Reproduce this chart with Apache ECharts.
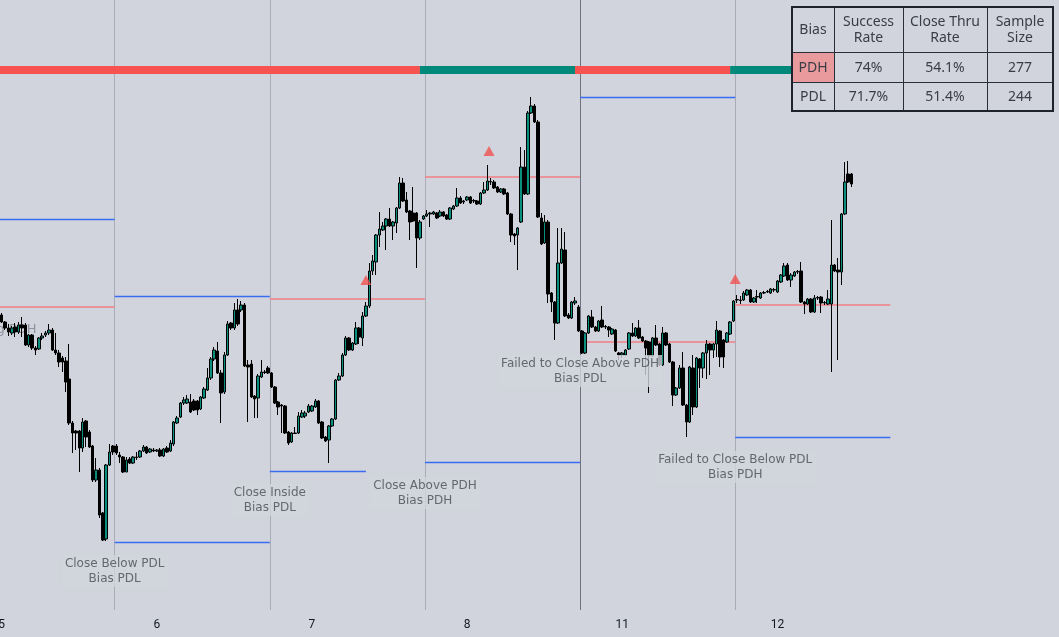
<!DOCTYPE html>
<html><head><meta charset="utf-8">
<script src="https://cdn.jsdelivr.net/npm/echarts/dist/echarts.min.js"></script>
<style>html,body{margin:0;padding:0;background:#d1d4dc}#c{width:1059px;height:637px}</style>
</head><body><div id="c"></div><script>
// ---- DATA ----
// day session labels on the time axis and the slot where each midnight falls
const dayLabels = ['5', '6', '7', '8', '11', '12'];
const labelBars = [0, 46, 92, 138, 184, 230];
const totalSlots = 314;
// 30-min candles [open, close, low, high]
const day5 = [
[4185,4178,4177,4187],[4178,4172,4170,4179],[4172,4168,4164,4176],[4167,4172,4165,4174],[4173,4168,4163,4177],
[4168,4175,4166,4178],[4175,4172,4163,4183],[4175,4155,4154,4177],[4155,4165,4153,4166],[4165,4152,4150,4166],
[4152,4150,4145,4154],[4151,4162,4150,4163],[4162,4164,4160,4167],[4165,4167,4163,4169],[4167,4170,4165,4176],
[4170,4150,4149,4172],[4150,4147,4145,4167],[4147,4138,4133,4150],[4142,4138,4128,4144],[4139,4118,4108,4143],
[4121,4077,4075,4156],[4077,4067,4047,4079],[4069,4067,4050,4070],[4069,4052,4028,4070],[4052,4078,4048,4082],
[4079,4063,4053,4080],[4068,4053,4052,4070],[4054,4020,4018,4055],[4020,4030,4018,4042],[4030,3985,3982,4032],
[3987,3960,3959,3988],[3961,4035,3959,4036],[4035,4048,4034,4056],[4054,4048,4045,4055]];
const day6 = [
[4054,4047,4045,4056],[4045,4043,4037,4048],[4043,4028,4027,4044],[4028,4040,4028,4043],[4041,4037,4036,4043],
[4037,4043,4036,4044],[4043,4042.5,4040,4048],[4043,4049,4042,4050],[4049,4053,4048,4055],[4053,4047,4046,4054],
[4048,4051,4047,4052],[4050,4049,4048,4052],[4049,4050,4048,4051],[4050,4044,4043,4052],[4044,4051,4043,4052],
[4052,4048,4047,4054],[4049,4057,4048,4060],[4056,4078,4054,4079],[4077,4082,4076,4084],[4083,4097,4082,4098],
[4097,4100,4095,4103],[4097,4101,4096,4105],[4098,4088,4087,4106],[4099,4090,4089,4101],[4099,4090,4085,4100],
[4091,4103,4090,4104],[4102,4111,4101,4113],[4110,4122,4109,4132],[4122,4141,4120,4143],[4141,4150,4139,4153],
[4149,4127,4126,4158],[4127,4107,4077,4130],[4108,4145,4106,4148],[4145,4176,4144,4179],[4177,4172,4170,4178],
[4172,4190,4170,4197],[4190,4176,4174,4201],[4190,4195,4188,4199],[4195,4134,4133,4197],[4135,4133,4078,4140],
[4136,4103,4102,4140],[4104,4101,4082,4105],[4102,4124,4082,4126],[4123,4128,4122,4140],[4128,4127.5,4126,4130],
[4132,4127,4126,4134]];
const day7 = [
[4127,4113,4112,4128],[4113,4097,4096,4114],[4098,4093,4085,4099],[4095,4094,4067,4096],[4094,4067,4066,4095],
[4068,4057,4055,4069],[4058,4067,4057,4068],[4067,4066.5,4066,4073],[4067,4084,4066,4088],[4083,4087,4082,4090],
[4084,4087,4082,4089],[4088,4094,4087,4096],[4089,4094,4088,4095],[4093,4099,4092,4101],[4099,4077,4076,4100],
[4078,4062,4061,4079],[4063,4059,4058,4064],[4060,4074,4037,4075],[4074,4081,4073,4082],[4081,4120,4080,4121],
[4120,4124,4119,4127],[4124,4145,4123,4147],[4145,4162,4144,4164],[4162,4150,4149,4163],[4150,4157,4149,4158],
[4156,4172,4155,4178],[4172,4163,4156,4173],[4162,4184,4154,4188],[4184,4194,4183,4198],[4194,4229,4192,4237],
[4229,4239,4225,4245],[4238,4265,4225,4266],[4265,4271,4253,4288],[4270,4274,4269,4278],[4274,4281,4250,4282],
[4281,4274,4273,4292],[4274,4278,4260,4279],[4277,4292,4267,4293],[4292,4317,4291,4323],[4317,4299,4298,4322],
[4300,4288,4287,4308],[4289,4278,4260,4290],[4287,4279,4278,4313],[4287,4262,4232,4288],[4262,4278,4260,4280],
[4281,4284,4280,4285]];
const day8 = [
[4284,4286,4283,4290],[4286,4287,4273,4288],[4286,4288,4285,4289],[4287,4282,4281,4288],[4284,4288,4283,4290],
[4288,4284,4283,4289],[4285,4281,4280,4286],[4281,4292,4280,4293],[4291,4294,4290,4295],[4294,4302,4293,4312],
[4302,4297,4296,4304],[4298,4299,4296,4300],[4300,4303,4299,4304],[4303,4297,4296,4304],[4299,4299.5,4297,4301],
[4299,4296,4295,4300],[4296,4307,4295,4308],[4307,4310,4306,4318],[4310,4319,4309,4335],[4318,4318.5,4315,4322],
[4318,4312,4311,4320],[4313,4308,4307,4314],[4308,4311,4307,4312],[4311,4306,4305,4312],[4307,4286,4285,4308],
[4286,4265,4258,4287],[4266,4264,4255,4267],[4265,4272,4230,4273],[4278,4333,4277,4353],[4333,4306,4305,4350],
[4306,4387,4305,4389],[4387,4394,4386,4403],[4394,4378,4377,4396],[4378,4283,4282,4380],[4282,4256,4255,4287],
[4257,4278,4256,4285],[4278,4206,4197,4280],[4207,4198,4188,4208],[4198,4177,4160,4199],[4177,4237,4176,4272],
[4237,4251,4236,4272],[4250,4184,4183,4268],[4185,4182,4181,4187],[4182,4198,4181,4199],[4197,4199,4195,4203],
[4193,4169,4168,4195]];
const day11 = [
[4169,4147,4146,4170],[4147,4167,4146,4168],[4167,4184,4166,4185],[4183,4173,4172,4190],[4173,4169,4168,4174],
[4169,4179,4168,4180],[4180,4173,4172,4194],[4173,4173.5,4171,4175],[4173,4170,4163,4174],[4166,4171,4165,4172],
[4170,4149,4148,4171],[4147,4145,4140,4148],[4145,4147,4142,4148],[4145,4150,4144,4151],[4151,4167,4150,4168],
[4167,4164,4163,4177],[4164,4172,4163,4173],[4172,4162,4161,4180],[4163,4159,4158,4164],[4159,4152,4125,4160],
[4158,4144,4107,4159],[4144,4162,4143,4163],[4162,4155,4154,4175],[4156,4135,4134,4157],[4135,4167,4134,4173],
[4167,4155,4154,4168],[4156,4138,4137,4157],[4138,4105,4094,4139],[4105,4112,4104,4113],[4112,4132,4111,4135],
[4132,4095,4094,4148],[4095,4078,4063,4096],[4078,4133,4077,4134],[4132,4093,4085,4145],[4093,4142,4092,4143],
[4141,4132,4112,4142],[4132,4147,4122,4148],[4147,4156,4121,4160],[4156,4150,4125,4157],[4150,4156,4142,4157],
[4156,4170,4143,4179],[4169,4143,4133,4170],[4160,4143,4132,4161],[4158,4167,4157,4168],[4166,4178,4165,4179],
[4179,4199,4178,4200]];
const day12 = [
[4200,4200.5,4197,4205],[4200,4199.5,4196,4204],[4200,4207,4199,4209],[4205,4210,4204,4211],[4210,4198,4197,4211],
[4198,4202,4197,4203],[4203,4203.5,4197,4210],[4202,4207,4201,4208],[4207,4207.5,4206,4209],[4208,4208.5,4207,4210],
[4207,4211,4206,4212],[4210,4210.5,4208,4212],[4208,4219,4207,4220],[4218,4225,4217,4226],[4224,4234,4223,4237],
[4235,4220,4219,4237],[4220,4225,4213,4227],[4224,4228,4223,4229],[4228,4228.5,4226,4230],[4229,4198,4197,4238],
[4198,4196,4186,4199],[4196,4201,4195,4202],[4201,4188,4187,4202],[4188,4202,4187,4205],[4202,4202.5,4200,4204],
[4203,4197,4187,4204],[4197,4197.5,4195,4199],[4196,4201,4195,4210],[4196,4235,4128,4280],[4235,4229,4228,4236],
[4230,4228,4140,4242],[4228,4286,4215,4287],[4286,4318,4285,4338],[4326,4318,4317,4339],[4326,4316,4313,4327]];
// session boundaries (in bar slots); the weekend boundary is drawn darker
const sessionBounds = [34, 80, 126, 172, 218];
const weekendBound = 172;
// previous-day level segments [fromSlot, toSlot, price]
const levelsRed = [[0,34,4193],[80,126,4201],[126,172,4323],[173.5,218,4158],[218,264,4195]];
const levelsBlue = [[0,34,4281],[34,80,4204],[34,80,3958],[80,108.5,4029],[126,172,4038],[172,218,4403],[218,264,4063]];
// bias band segments [fromSlot, toSlot, bias]
const biasBand = [[0,124.5,'PDL'],[124.5,170.5,'PDH'],[170.5,216.5,'PDL'],[216.5,264,'PDH']];
const biasBandPrice = 4430;
// signal triangles [slot, price]
const signals = [[108.5,4220],[145,4349],[218,4221]];
// annotations [slot, price, text]
const notes = [
  [34, 3929, 'Close Below PDL\nBias PDL'],
  [80, 4000, 'Close Inside\nBias PDL'],
  [126, 4007, 'Close Above PDH\nBias PDH'],
  [172, 4129, 'Failed to Close Above PDH\nBias PDL'],
  [218, 4033, 'Failed to Close Below PDL\nBias PDH']];
const avgNote = [11, 4170, 'Avg PDH'];
// stats table
const tableHeader = ['Bias', 'Success\nRate', 'Close Thru\nRate', 'Sample\nSize'];
const tableRows = [['PDH', '74%', '54.1%', '277'], ['PDL', '71.7%', '51.4%', '244']];

// ---- BUILD ----
const BG = '#d1d4dc';
const RED = '#f6524f', TEAL = '#00897b';
const candles = [].concat(day5, day6, day7, day8, day11, day12);
const cats = [];
for (let i = 0; i < totalSlots; i++) {
  const k = labelBars.indexOf(i);
  cats.push(k >= 0 ? dayLabels[k] : '');
}

const markData = [];
sessionBounds.forEach(b => markData.push({xAxis: b, lineStyle: {color: b === weekendBound ? '#70737d' : '#a9acb6', width: 1, type: 'solid'}}));

const levelData = [];
levelsRed.forEach(s => levelData.push([{coord: [s[0], s[2]], lineStyle: {color: '#ef7f85', width: 1.6, type: 'solid'}}, {coord: [s[1], s[2]]}]));
levelsBlue.forEach(s => levelData.push([{coord: [s[0], s[2]], lineStyle: {color: '#3a6cf2', width: 1.4, type: 'solid'}}, {coord: [s[1], s[2]]}]));
biasBand.forEach(s => levelData.push([{coord: [s[0], biasBandPrice], lineStyle: {color: s[2] === 'PDH' ? TEAL : RED, width: 8, type: 'solid', cap: 'butt'}}, {coord: [s[1], biasBandPrice]}]));

// table graphic
const colX = [792, 834, 903, 987, 1053];
const rowY = [7, 52, 82, 111];
const tg = [];
tg.push({type: 'rect', z: 100, shape: {x: colX[0], y: rowY[0], width: colX[4] - colX[0], height: rowY[3] - rowY[0]}, style: {fill: BG}});
tg.push({type: 'rect', z: 101, shape: {x: colX[0], y: rowY[1], width: colX[1] - colX[0], height: rowY[2] - rowY[1]}, style: {fill: '#e99a9c'}});
for (let c = 1; c < 4; c++) tg.push({type: 'line', z: 102, shape: {x1: colX[c] + 0.5, y1: rowY[0], x2: colX[c] + 0.5, y2: rowY[3]}, style: {stroke: '#2a2e39', lineWidth: 1}});
for (let r = 1; r < 3; r++) tg.push({type: 'line', z: 102, shape: {x1: colX[0], y1: rowY[r] + 0.5, x2: colX[4], y2: rowY[r] + 0.5}, style: {stroke: '#2a2e39', lineWidth: 1}});
tg.push({type: 'rect', z: 103, shape: {x: colX[0], y: rowY[0], width: colX[4] - colX[0], height: rowY[3] - rowY[0]}, style: {fill: null, stroke: '#1e222d', lineWidth: 2}});
const allRows = [tableHeader].concat(tableRows);
allRows.forEach((row, r) => row.forEach((t, c) => {
  tg.push({type: 'text', z: 104, x: (colX[c] + colX[c + 1]) / 2, y: (rowY[r] + rowY[r + 1]) / 2 + 1,
    style: {text: t, fill: '#3a3d47', font: '14px "Noto Sans"', align: 'center', verticalAlign: 'middle', lineHeight: 16}});
}));

const chart = echarts.init(document.getElementById('c'), null, {renderer: 'canvas'});
chart.setOption({
  animation: false,
  backgroundColor: BG,
  grid: {left: 0, right: 0, top: 0, bottom: 27, containLabel: false, outerBoundsMode: 'none'},
  xAxis: [
    {type: 'category', data: cats, boundaryGap: true,
     axisLine: {show: false}, axisTick: {show: false}, splitLine: {show: false},
     axisLabel: {interval: 0, color: '#131722', fontSize: 12, fontFamily: 'Roboto', margin: 9}},
    {type: 'value', min: 0, max: totalSlots, show: false}
  ],
  yAxis: {type: 'value', min: 3890, max: 4500, show: false, splitLine: {show: false}},
  series: [
    {type: 'line', xAxisIndex: 1, data: [], z: 1, silent: true,
     markLine: {silent: true, symbol: ['none', 'none'], label: {show: false}, animation: false, data: markData}},
    {type: 'line', xAxisIndex: 1, data: [], z: 2, silent: true,
     markLine: {silent: true, symbol: ['none', 'none'], label: {show: false}, animation: false, data: levelData}},
    {type: 'scatter', xAxisIndex: 1, z: 2, silent: true, symbolSize: 1, itemStyle: {color: 'rgba(0,0,0,0)'},
     data: [[avgNote[0], avgNote[1]]],
     label: {show: true, position: 'left', distance: 0, formatter: avgNote[2], color: 'rgba(105,108,120,0.8)', fontSize: 13, fontFamily: 'DejaVu Sans'}},
    {type: 'candlestick', xAxisIndex: 0, z: 5, data: candles, barWidth: 3,
     itemStyle: {color: '#0a8f7e', color0: '#000000', borderColor: '#000000', borderColor0: '#000000', borderWidth: 1}},
    {type: 'scatter', xAxisIndex: 1, z: 6, silent: true, symbol: 'triangle', symbolSize: [11, 10],
     itemStyle: {color: '#f0504f'}, data: signals},
    {type: 'scatter', xAxisIndex: 1, z: 7, silent: true, symbolSize: 1, itemStyle: {color: 'rgba(0,0,0,0)'},
     data: notes.map(n => ({value: [n[0], n[1]], label: {formatter: n[2]}})),
     label: {show: true, position: 'inside', color: '#484b55', fontSize: 12, fontFamily: 'DejaVu Sans', lineHeight: 15,
       align: 'center', backgroundColor: BG, padding: [1, 3]}}
  ],
  graphic: {elements: tg}
});
</script></body></html>
